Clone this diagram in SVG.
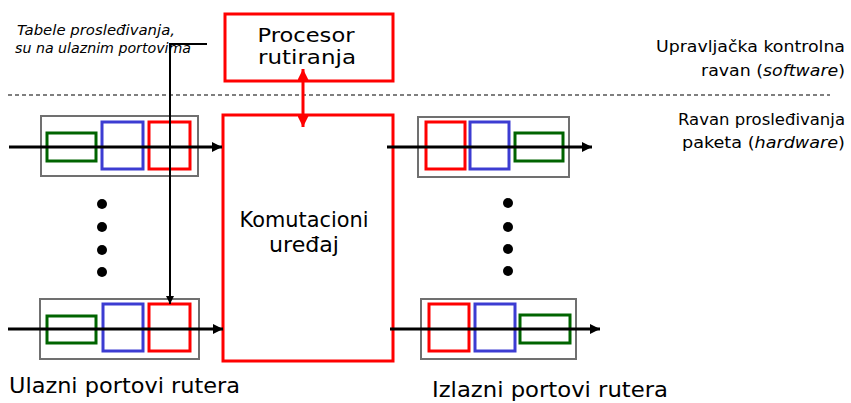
<svg xmlns="http://www.w3.org/2000/svg" width="851" height="403" viewBox="0 0 851 403">
<style>
text{font-family:"DejaVu Sans","Liberation Sans",sans-serif;fill:#000}
.big{font-size:21px}
.pr{font-size:19px}
.med{font-size:16px}
.sm{font-size:13.5px;font-style:italic}
.port{fill:none;stroke:#707070;stroke-width:2}
.g{fill:none;stroke:#006400;stroke-width:3}
.b{fill:none;stroke:#3c3cd2;stroke-width:3}
.r{fill:none;stroke:#ff0000;stroke-width:3}
.flow{stroke:#000;stroke-width:3;fill:none}
.thin{stroke:#000;stroke-width:2;fill:none}
.dot{fill:#000}
</style>
<defs>
<marker id="ah" viewBox="0 0 10 10" refX="10" refY="5" markerWidth="8" markerHeight="8" markerUnits="userSpaceOnUse" orient="auto">
<path d="M0,0 L10,5 L0,10 z" fill="#000"/>
</marker>
<marker id="ah2" viewBox="0 0 10 10" refX="10" refY="5" markerWidth="10" markerHeight="10" markerUnits="userSpaceOnUse" orient="auto">
<path d="M0,0 L10,5 L0,10 z" fill="#000"/>
</marker>
<marker id="rah" viewBox="0 0 10 10" refX="10" refY="5" markerWidth="11" markerHeight="11" markerUnits="userSpaceOnUse" orient="auto-start-reverse">
<path d="M0,0 L10,5 L0,10 z" fill="#ff0000"/>
</marker>
</defs>
<line x1="8" y1="95" x2="830" y2="95" stroke="#000" stroke-width="1.2" stroke-dasharray="4,3"/>
<g id="note">
<text class="sm" x="17" y="35" textLength="158" lengthAdjust="spacingAndGlyphs">Tabele prosleđivanja,</text>
<text class="sm" x="15" y="53" textLength="176" lengthAdjust="spacingAndGlyphs">su na ulaznim portovima</text>
</g>
<g id="procesor">
<rect x="225" y="14" width="168" height="67" class="r"/>
<text class="pr" x="306" y="42" text-anchor="middle" textLength="97" lengthAdjust="spacingAndGlyphs">Procesor</text>
<text class="pr" x="307" y="64" text-anchor="middle" textLength="98" lengthAdjust="spacingAndGlyphs">rutiranja</text>
</g>
<g id="komutacioni">
<rect x="223" y="115" width="170" height="246" class="r"/>
<text class="big" x="304" y="227" text-anchor="middle" textLength="129" lengthAdjust="spacingAndGlyphs">Komutacioni</text>
<text class="big" x="304" y="252" text-anchor="middle" textLength="70" lengthAdjust="spacingAndGlyphs">uređaj</text>
</g>
<g id="in-top">
<rect x="41" y="116" width="157" height="60" class="port"/>
<rect x="47" y="133" width="49" height="28" class="g"/>
<rect x="102" y="122" width="41" height="47" class="b"/>
<rect x="149" y="122" width="41" height="47" class="r"/>
</g>
<g id="in-bottom">
<rect x="40" y="299" width="159" height="60" class="port"/>
<rect x="47" y="316" width="49" height="27" class="g"/>
<rect x="103" y="304" width="40" height="47" class="b"/>
<rect x="149" y="304" width="41" height="47" class="r"/>
</g>
<g id="out-top">
<rect x="418" y="117" width="151" height="60" class="port"/>
<rect x="426" y="122" width="39" height="47" class="r"/>
<rect x="470" y="122" width="39" height="47" class="b"/>
<rect x="515" y="133" width="48" height="28" class="g"/>
</g>
<g id="out-bottom">
<rect x="421" y="299" width="155" height="60" class="port"/>
<rect x="429" y="304" width="40" height="47" class="r"/>
<rect x="475" y="304" width="40" height="47" class="b"/>
<rect x="520" y="315" width="50" height="28" class="g"/>
</g>
<g id="dots">
<circle class="dot" cx="102" cy="204" r="5"/>
<circle class="dot" cx="102" cy="227" r="5"/>
<circle class="dot" cx="102" cy="250" r="5"/>
<circle class="dot" cx="102" cy="272" r="5"/>
<circle class="dot" cx="508" cy="203" r="5"/>
<circle class="dot" cx="508" cy="227" r="5"/>
<circle class="dot" cx="508" cy="249" r="5"/>
<circle class="dot" cx="508" cy="271" r="5"/>
</g>
<g id="connectors">
<line x1="9" y1="147" x2="222" y2="147" class="flow" marker-end="url(#ah2)"/>
<line x1="8" y1="329" x2="223" y2="329" class="flow" marker-end="url(#ah2)"/>
<line x1="387" y1="147" x2="592" y2="147" class="flow" marker-end="url(#ah2)"/>
<line x1="390" y1="329" x2="600" y2="329" class="flow" marker-end="url(#ah2)"/>
<polyline points="207,44 170,44 170,304" class="thin" marker-end="url(#ah)"/>
<line x1="303" y1="69" x2="303" y2="127" stroke="#ff0000" stroke-width="3" marker-start="url(#rah)" marker-end="url(#rah)"/>
</g>
<g id="labels">
<text class="med" x="845" y="52" text-anchor="end" textLength="189" lengthAdjust="spacingAndGlyphs">Upravljačka kontrolna</text>
<text class="med" x="845" y="76" text-anchor="end" textLength="144" lengthAdjust="spacingAndGlyphs">ravan (<tspan font-style="italic">software</tspan>)</text>
<text class="med" x="845" y="125" text-anchor="end" textLength="167" lengthAdjust="spacingAndGlyphs">Ravan prosleđivanja</text>
<text class="med" x="845" y="148" text-anchor="end" textLength="163" lengthAdjust="spacingAndGlyphs">paketa (<tspan font-style="italic">hardware</tspan>)</text>
<text class="big" x="9" y="393" textLength="231" lengthAdjust="spacingAndGlyphs">Ulazni portovi rutera</text>
<text class="big" x="432" y="397" textLength="236" lengthAdjust="spacingAndGlyphs">Izlazni portovi rutera</text>
</g>
</svg>
